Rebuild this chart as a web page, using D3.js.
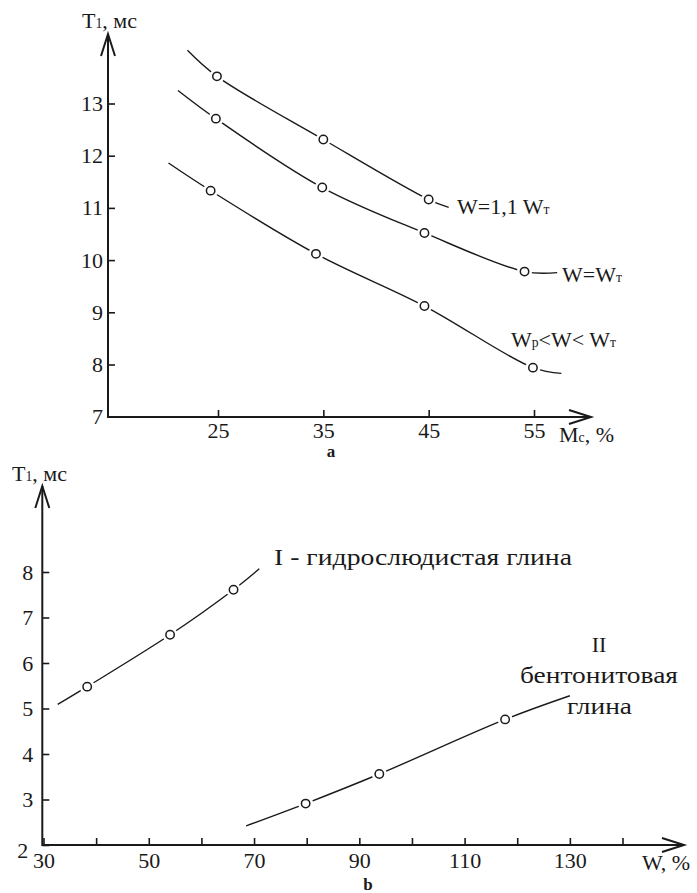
<!DOCTYPE html>
<html lang="ru">

<head>
    <meta charset="UTF-8">
    <script src="https://cdn.jsdelivr.net/npm/d3@7"></script>
    <title>T1 vs Mc and W</title>
    <style>
        body {
            margin: 0;
            background: white;
        }

        text {
            font-family: 'Liberation Serif', 'DejaVu Serif', serif;
            fill: #1a1a1a;
        }

        .curve {
            fill: none;
            stroke: #1a1a1a;
            stroke-width: 1.4px;
        }

        .axisLine {
            fill: none;
            stroke: #1a1a1a;
            stroke-width: 2px;
        }
    </style>
</head>

<body>
    <script>
        const width = 697;
        const height = 893;
        const fontSize = 22;

        // ---- panel a: T1 (ms) vs Mc (%) ----
        const aTicksX = [25, 35, 45, 55];
        const aTicksY = [7, 8, 9, 10, 11, 12, 13];

        // W = 1,1 WT
        const a1X = [24.9, 35.0, 45.0];
        const a1Y = [13.52, 12.31, 11.16];
        const a1Ends = [[22.1, 14.02], [46.9, 11.01]];

        // W = WT
        const a2X = [24.8, 34.9, 44.6, 54.1];
        const a2Y = [12.71, 11.39, 10.52, 9.78];
        const a2Ends = [[21.2, 13.25], [57.2, 9.76]];

        // Wp < W < WT
        const a3X = [24.3, 34.3, 44.6, 54.9];
        const a3Y = [11.33, 10.12, 9.12, 7.94];
        const a3Ends = [[20.3, 11.86], [57.6, 7.83]];

        // ---- panel b: T1 (ms) vs W (%) ----
        const bTicksX = [30, 40, 50, 60, 70, 80, 90, 100, 110, 120, 130, 140];
        const bLabelsX = [30, 50, 70, 90, 110, 130];
        const bTicksY = [2, 3, 4, 5, 6, 7, 8];

        // I - hydromica clay
        const b1X = [38.3, 54.05, 66.1];
        const b1Y = [5.48, 6.62, 7.61];
        const b1Ends = [[32.7, 5.09], [71.0, 8.07]];

        // II - bentonite clay
        const b2X = [79.8, 93.8, 117.7];
        const b2Y = [2.91, 3.56, 4.76];
        const b2Ends = [[68.5, 2.42], [130.0, 5.28]];

        const svg = d3.select("body").append("svg")
            .attr("width", width)
            .attr("height", height);

        // open V arrow head
        const arrowHead = (g, x, y, dir) => {
            const len = 22, half = 7;
            const p = dir === "up"
                ? [[x - half, y + len], [x, y], [x + half, y + len]]
                : [[x - len, y - half], [x, y], [x - len, y + half]];
            g.append("path").attr("class", "axisLine").attr("d", d3.line()(p));
        };

        const drawSeries = (g, xs, ys, ends, x, y) => {
            const pts = xs.map((v, i) => [v, ys[i]]);
            const all = [ends[0], ...pts, ends[1]];
            const line = d3.line()
                .x(d => x(d[0]))
                .y(d => y(d[1]))
                .curve(d3.curveCatmullRom.alpha(0.5));
            g.append("path").attr("class", "curve").attr("d", line(all));

            // white halo leaves the gap around each marker
            g.selectAll(null).data(pts).enter().append("circle")
                .attr("cx", d => x(d[0])).attr("cy", d => y(d[1]))
                .attr("r", 7.5).attr("fill", "white");
            g.selectAll(null).data(pts).enter().append("circle")
                .attr("cx", d => x(d[0])).attr("cy", d => y(d[1]))
                .attr("r", 4.2).attr("fill", "white")
                .attr("stroke", "#1a1a1a").attr("stroke-width", 1.5);
        };

        const styleAxis = (sel) => {
            sel.attr("font-family", null).attr("font-size", null);
            sel.select(".domain").remove();
            sel.selectAll(".tick line").attr("stroke", "#1a1a1a").attr("stroke-width", 1.6);
            sel.selectAll(".tick text")
                .attr("fill", "#1a1a1a")
                .style("font-size", fontSize + "px");
        };

        // label with small parts: parts = [[text, small?], ...]
        const richText = (g, x, y, parts, anchor = "start", len = null, size = fontSize) => {
            const t = g.append("text").attr("x", x).attr("y", y)
                .attr("text-anchor", anchor)
                .style("font-size", size + "px");
            if (len) t.attr("textLength", len).attr("lengthAdjust", "spacingAndGlyphs");
            parts.forEach(p => {
                t.append("tspan")
                    .style("font-size", (p[1] ? size * 0.62 : size) + "px")
                    .text(p[0]);
            });
            return t;
        };

        // ================= panel a =================
        const gA = svg.append("g");
        const oA = { x: 108, y: 417 };
        const xA = d3.scaleLinear().domain([25, 55]).range([218, 534]);
        const yA = d3.scaleLinear().domain([7, 13]).range([416.7, 103.5]);

        gA.append("g")
            .attr("transform", `translate(${oA.x},0)`)
            .call(d3.axisLeft(yA).tickValues(aTicksY).tickFormat(d3.format("d"))
                .tickSizeInner(-7).tickSizeOuter(0).tickPadding(5))
            .call(styleAxis);
        gA.append("g")
            .attr("transform", `translate(0,${oA.y})`)
            .call(d3.axisBottom(xA).tickValues(aTicksX).tickFormat(d3.format("d"))
                .tickSizeInner(-7).tickSizeOuter(0).tickPadding(5))
            .call(styleAxis);

        gA.append("path").attr("class", "axisLine")
            .attr("d", d3.line()([[oA.x, 34], [oA.x, oA.y], [591, oA.y]]));
        arrowHead(gA, oA.x, 34, "up");
        arrowHead(gA, 591, oA.y, "right");

        drawSeries(gA, a1X, a1Y, a1Ends, xA, yA);
        drawSeries(gA, a2X, a2Y, a2Ends, xA, yA);
        drawSeries(gA, a3X, a3Y, a3Ends, xA, yA);

        richText(gA, 82, 28, [["T", false], ["1", true], [", мс", false]]);
        richText(gA, 457, 214, [["W=1,1 W", false], ["т", true]]);
        richText(gA, 562, 282, [["W=W", false], ["т", true]]);
        richText(gA, 511, 347, [["W", false], ["p", true], ["<W< W", false], ["т", true]]);
        richText(gA, 559, 442, [["M", false], ["c", true], [", %", false]]);
        gA.append("text").attr("x", 331).attr("y", 457).attr("text-anchor", "middle")
            .style("font-size", "17px").style("font-weight", "bold").text("a");

        // ================= panel b =================
        const gB = svg.append("g");
        const oB = { x: 42.3, y: 845 };
        const xB = d3.scaleLinear().domain([30, 140]).range([43.5, 622.5]);
        const yB = d3.scaleLinear().domain([2, 8]).range([845, 572]);

        gB.append("g")
            .attr("transform", `translate(${oB.x},0)`)
            .call(d3.axisLeft(yB).tickValues(bTicksY).tickFormat(d3.format("d"))
                .tickSizeInner(-7).tickSizeOuter(0).tickPadding(9))
            .call(styleAxis)
            .call(g => g.selectAll(".tick text").filter(d => d === 2).attr("dx", -5).attr("dy", "0.55em"));
        gB.append("g")
            .attr("transform", `translate(0,${oB.y})`)
            .call(d3.axisBottom(xB).tickValues(bTicksX).tickSizeInner(-7).tickSizeOuter(0).tickPadding(7)
                .tickFormat(d => bLabelsX.includes(d) ? d : ""))
            .call(styleAxis);

        gB.append("path").attr("class", "axisLine")
            .attr("d", d3.line()([[oB.x, 486], [oB.x, oB.y], [684, oB.y]]));
        arrowHead(gB, oB.x, 486, "up");
        arrowHead(gB, 684, oB.y, "right");

        drawSeries(gB, b1X, b1Y, b1Ends, xB, yB);
        drawSeries(gB, b2X, b2Y, b2Ends, xB, yB);

        richText(gB, 12, 481, [["T", false], ["1", true], [", мс", false]]);
        richText(gB, 274, 565, [["I - гидрослюдистая глина", false]], "start", 298, 23);
        richText(gB, 599, 652, [["II", false]], "middle");
        richText(gB, 599, 683, [["бентонитовая", false]], "middle", 158, 23);
        richText(gB, 599.5, 714, [["глина", false]], "middle", 65, 23);
        richText(gB, 642, 870, [["W, %", false]]);
        gB.append("text").attr("x", 368).attr("y", 890).attr("text-anchor", "middle")
            .style("font-size", "17px").style("font-weight", "bold").text("b");
    </script>
</body>

</html>
